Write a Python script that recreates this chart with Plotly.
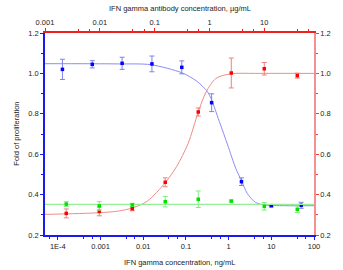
import numpy as np
import plotly.graph_objects as go

# ---- data ----
# IFN gamma titration (bottom axis, ng/mL)
ifn_conc = [0.000128, 0.00064, 0.0032, 0.016, 0.08, 0.4, 2, 10, 50]
ifn_fold = [1.020, 1.045, 1.050, 1.047, 1.030, 0.855, 0.464, 0.345, 0.347]
ifn_err = [0.050, 0.018, 0.030, 0.039, 0.032, 0.044, 0.019, 0.006, 0.015]

# antibody titration (top axis, ug/mL)
ab_conc = [0.00244, 0.00977, 0.0391, 0.156, 0.625, 2.5, 10, 40]
ab_fold = [0.307, 0.317, 0.330, 0.461, 0.809, 1.002, 1.023, 0.989]
ab_err = [0.022, 0.022, 0.010, 0.022, 0.020, 0.074, 0.031, 0.012]
ctrl_fold = [0.353, 0.344, 0.349, 0.365, 0.377, 0.368, 0.342, 0.327]
ctrl_err = [0.012, 0.021, 0.008, 0.026, 0.041, 0.005, 0.019, 0.016]

# fitted curves
ifn_fit_x = [5.03e-5, 0.0026, 0.0151, 0.0805, 0.178, 0.330, 0.608, 0.948, 1.47, 2.02, 2.73, 4.23, 6.56, 20.6, 100]
ifn_fit_y = [1.048, 1.047, 1.043, 1.003, 0.962, 0.905, 0.761, 0.646, 0.530, 0.467, 0.406, 0.362, 0.349, 0.345, 0.345]
ab_fit_x = [0.000984, 0.00935, 0.0213, 0.0395, 0.0738, 0.156, 0.253, 0.409, 0.618, 0.869, 1.31, 2.43, 6.82, 80.7]
ab_fit_y = [0.302, 0.310, 0.318, 0.334, 0.368, 0.459, 0.540, 0.654, 0.805, 0.908, 0.975, 0.998, 1.0, 1.0]
ctrl_fit_x = [0.000984, 80.7]
ctrl_fit_y = [0.352, 0.352]

bottom_ticks = [1e-4, 1e-3, 1e-2, 1e-1, 1, 10, 100]
bottom_text = ["1E-4", "0.001", "0.01", "0.1", "1", "10", "100"]
top_ticks = [1e-3, 1e-2, 1e-1, 1, 10]
top_text = ["0.001", "0.01", "0.1", "1", "10"]

BLUE = "#0000ff"
RED = "#ff0000"
GREEN = "#00e000"
FONT = "Liberation Sans, Arial, sans-serif"
TXT = "#222222"

fig = go.Figure()

fig.add_trace(go.Scatter(x=ifn_fit_x, y=ifn_fit_y, mode="lines", xaxis="x", yaxis="y",
                         line=dict(color="#8c8cf4", width=1, shape="spline", smoothing=0.8),
                         hoverinfo="skip", showlegend=False))
fig.add_trace(go.Scatter(x=ab_fit_x, y=ab_fit_y, mode="lines", xaxis="x2", yaxis="y2",
                         line=dict(color="#f08c8c", width=1, shape="spline", smoothing=0.8),
                         hoverinfo="skip", showlegend=False))
fig.add_trace(go.Scatter(x=ctrl_fit_x, y=ctrl_fit_y, mode="lines", xaxis="x2", yaxis="y2",
                         line=dict(color="#96ee96", width=1.2),
                         hoverinfo="skip", showlegend=False))

fig.add_trace(go.Scatter(x=ifn_conc, y=ifn_fold, mode="markers", xaxis="x", yaxis="y",
                         marker=dict(symbol="square", size=3.5, color=BLUE),
                         error_y=dict(type="data", array=ifn_err, color="#8080ee", thickness=1, width=2.5),
                         showlegend=False))
fig.add_trace(go.Scatter(x=ab_conc, y=ab_fold, mode="markers", xaxis="x2", yaxis="y2",
                         marker=dict(symbol="square", size=3.5, color=RED),
                         error_y=dict(type="data", array=ab_err, color="#ee8080", thickness=1, width=2.5),
                         showlegend=False))
fig.add_trace(go.Scatter(x=ab_conc, y=ctrl_fold, mode="markers", xaxis="x2", yaxis="y2",
                         marker=dict(symbol="square", size=3.5, color=GREEN),
                         error_y=dict(type="data", array=ctrl_err, color="#80ee80", thickness=1, width=2.5),
                         showlegend=False))

def minor_vals(lo, hi):
    vals = []
    for d in range(lo, hi):
        for f in (4.0, 6.4):
            vals.append(f * 10.0 ** d)
    return vals

common = dict(color=TXT, showgrid=False, zeroline=False, showline=True, linewidth=1.5,
              ticks="outside", ticklen=3, tickwidth=1,
              tickfont=dict(family=FONT, size=7.5, color=TXT))

fig.update_layout(
    width=343, height=270,
    margin=dict(l=45, r=23, t=33, b=35),
    paper_bgcolor="white", plot_bgcolor="white",
    showlegend=False,
    xaxis=dict(type="log", range=[np.log10(5e-5), 2], anchor="y", side="bottom",
               linecolor="#1a1aee", tickcolor="#1a1aee",
               tickvals=bottom_ticks, ticktext=bottom_text,
               minor=dict(tickvals=minor_vals(-5, 2), ticks="outside", ticklen=2, tickcolor="#1a1aee"),
               **common),
    xaxis2=dict(type="log", range=[-3, np.log10(80.7)], anchor="y2", overlaying="x", side="top",
                linecolor="#ee2020", tickcolor="#ee2020",
                tickvals=top_ticks, ticktext=top_text,
                minor=dict(tickvals=minor_vals(-3, 2), ticks="outside", ticklen=2, tickcolor="#ee2020"),
                **common),
    yaxis=dict(range=[0.2, 1.2], anchor="x", side="left",
               linecolor="#1a1aee", tickcolor="#1a1aee",
               tickvals=[0.2, 0.4, 0.6, 0.8, 1.0, 1.2], tickformat=".1f",
               minor=dict(tickvals=[0.3, 0.5, 0.7, 0.9, 1.1], ticks="outside", ticklen=2, tickcolor="#1a1aee"),
               **common),
    yaxis2=dict(range=[0.2, 1.2], anchor="x2", overlaying="y", side="right",
                linecolor="#f49090", tickcolor="#ee4040",
                tickvals=[0.2, 0.4, 0.6, 0.8, 1.0, 1.2], tickformat=".1f",
                minor=dict(tickvals=[0.3, 0.5, 0.7, 0.9, 1.1], ticks="outside", ticklen=2, tickcolor="#ee4040"),
                **common),
)

# axis titles placed as paper annotations
fig.add_annotation(text="IFN gamma concentration, ng/mL", xref="paper", yref="paper",
                   x=0.5, y=-0.134, yanchor="middle", showarrow=False,
                   font=dict(family=FONT, size=7.5, color=TXT))
fig.add_annotation(text="IFN gamma antibody concentration, µg/mL", xref="paper", yref="paper",
                   x=0.5, y=1.119, yanchor="middle", showarrow=False,
                   font=dict(family=FONT, size=7.5, color=TXT))
fig.add_annotation(text="Fold of proliferation", xref="paper", yref="paper",
                   x=-0.109, y=0.5, xanchor="center", yanchor="middle", textangle=-90, showarrow=False,
                   font=dict(family=FONT, size=7.5, color=TXT))

# remove the default page margin so the 343x270 figure fills the window
fig.write_html("out.html", config={"displayModeBar": False},
               post_script="document.body.style.margin='0';")
